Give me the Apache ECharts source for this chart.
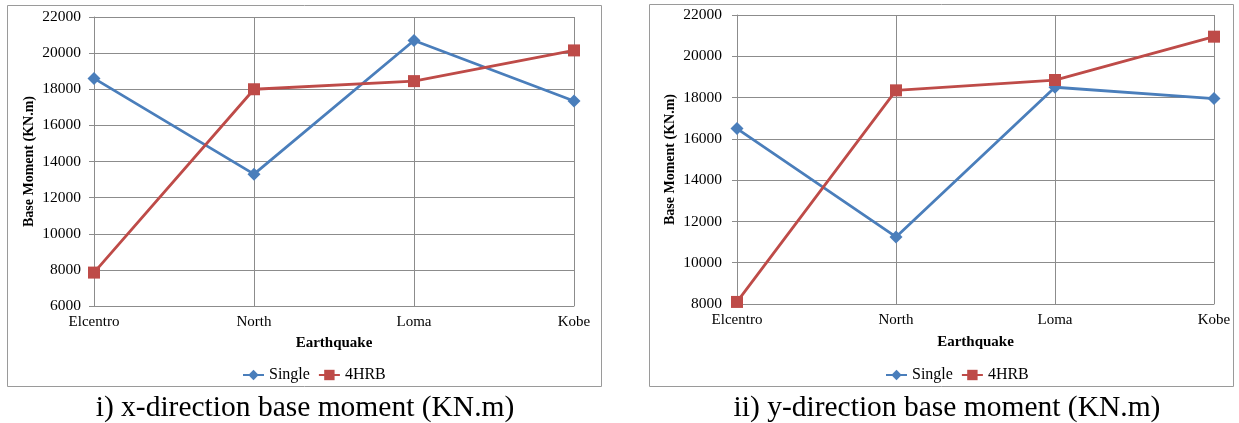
<!DOCTYPE html>
<html>
<head>
<meta charset="utf-8">
<title>Base moment comparison</title>
<script src="https://cdn.jsdelivr.net/npm/echarts@6/dist/echarts.min.js"></script>
<style>
  html, body { margin: 0; padding: 0; background: #ffffff; }
  #chart { width: 1239px; height: 423px; }
</style>
</head>
<body>
<div id="chart"></div>
<script>
// Earthquake records on the horizontal axis
const earthquakes = ['Elcentro', 'North', 'Loma', 'Kobe'];

// x-direction base moment (KN.m)
const xSingle = [18600, 13300, 20700, 17350];
const x4HRB = [7850, 18000, 18450, 20150];

// y-direction base moment (KN.m)
const ySingle = [16500, 11250, 18500, 17950];
const y4HRB = [8100, 18350, 18850, 20950];

const captions = ['i) x-direction base moment (KN.m)', 'ii) y-direction base moment (KN.m)'];
const seriesNames = ['Single', '4HRB'];

const BLUE = '#4a7ebb';
const RED = '#be4b48';
const GRID_GRAY = '#8c8c8c';
const FONT = '"Liberation Serif", "Times New Roman", serif';

function makeXAxis(gridIndex, gap) {
  return {
    gridIndex: gridIndex,
    type: 'category',
    data: earthquakes,
    boundaryGap: false,
    name: 'Earthquake',
    nameLocation: 'middle',
    nameGap: gap,
    nameTextStyle: { fontFamily: FONT, fontWeight: 'bold', fontSize: 15, color: '#000' },
    axisLine: { lineStyle: { color: GRID_GRAY, width: 1 } },
    axisTick: { show: false },
    axisLabel: { fontFamily: FONT, fontSize: 15, color: '#000', margin: 9 },
    splitLine: { show: true, lineStyle: { color: GRID_GRAY, width: 1 } }
  };
}

function makeYAxis(gridIndex, min, gap, margin) {
  return {
    gridIndex: gridIndex,
    type: 'value',
    min: min,
    max: 22000,
    interval: 2000,
    name: 'Base Moment (KN.m)',
    nameLocation: 'middle',
    nameGap: gap,
    nameTextStyle: { fontFamily: FONT, fontWeight: 'bold', fontSize: 14, color: '#000' },
    axisLine: { show: true, lineStyle: { color: GRID_GRAY, width: 1 } },
    axisTick: { show: true, length: 5, lineStyle: { color: GRID_GRAY } },
    axisLabel: {
      fontFamily: FONT, fontSize: 15.5, color: '#000', margin: margin,
      formatter: function (v) { return String(v); }
    },
    splitLine: { show: true, lineStyle: { color: GRID_GRAY, width: 1 } }
  };
}

function lineSeries(name, data, idx, color, symbol, size) {
  return {
    name: name,
    type: 'line',
    xAxisIndex: idx,
    yAxisIndex: idx,
    data: data,
    symbol: symbol,
    symbolSize: size,
    lineStyle: { color: color, width: 2.8 },
    itemStyle: { color: color },
    emphasis: { disabled: true },
    animation: false
  };
}

function legendAt(left) {
  return {
    data: seriesNames,
    left: left,
    top: 362,
    itemWidth: 21,
    itemHeight: 13,
    itemGap: 8,
    textStyle: { fontFamily: FONT, fontSize: 16, color: '#000' }
  };
}

const chart = echarts.init(document.getElementById('chart'), null, { renderer: 'canvas' });

chart.setOption({
  backgroundColor: '#ffffff',
  animation: false,
  graphic: [
    { type: 'rect', shape: { x: 7.5, y: 5.5, width: 594, height: 381 },
      style: { fill: 'none', stroke: '#9a9a9a', lineWidth: 1 }, z: -1 },
    { type: 'rect', shape: { x: 649.5, y: 4.5, width: 584, height: 382 },
      style: { fill: 'none', stroke: '#9a9a9a', lineWidth: 1 }, z: -1 },
    { type: 'text', x: 305, y: 408,
      style: { text: captions[0], font: '29.5px ' + FONT, fill: '#000', textAlign: 'center', textVerticalAlign: 'middle' } },
    { type: 'text', x: 947, y: 408,
      style: { text: captions[1], font: '29.5px ' + FONT, fill: '#000', textAlign: 'center', textVerticalAlign: 'middle' } }
  ],
  legend: [legendAt(237), legendAt(880)],
  grid: [
    { left: 94, top: 17, width: 480, height: 289 },
    { left: 737, top: 15, width: 477, height: 289 }
  ],
  xAxis: [makeXAxis(0, 30), makeXAxis(1, 31)],
  yAxis: [makeYAxis(0, 6000, 58, 13), makeYAxis(1, 8000, 60, 15)],
  series: [
    lineSeries('Single', xSingle, 0, BLUE, 'diamond', 13),
    lineSeries('4HRB', x4HRB, 0, RED, 'rect', 12),
    lineSeries('Single', ySingle, 1, BLUE, 'diamond', 13),
    lineSeries('4HRB', y4HRB, 1, RED, 'rect', 12)
  ]
});
</script>
</body>
</html>
